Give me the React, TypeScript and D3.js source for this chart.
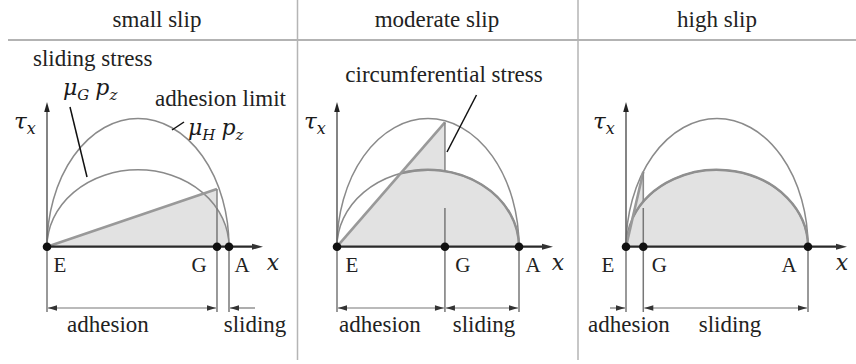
import React from "react";
import * as d3 from "d3";

// Regime titles, one panel each
const panelTitles = ["small slip", "moderate slip", "high slip"];
// Position of the transition point G along the contact length E→A (0..1)
const transitionPos = [0.934, 0.593, 0.095];
// Circumferential stress reached at G, relative to the μH·pz peak
const stressAtG = [0.45, 0.97, 0.584];
// Peaks of the two elliptic stress envelopes
const adhesionLimitPeak = 1.0; // μH pz
const slidingStressPeak = 0.6; // μG pz
const pointLabels = ["E", "G", "A"];
const zoneLabels = ["adhesion", "sliding"];

const W = 856;
const H = 364;
const SERIF = "Liberation Serif, Tinos, Times, DejaVu Serif, serif";
const MATH = "DejaVu Serif, serif";

function semiEllipseAt(peak: number, t: number) {
  const u = 2 * t - 1;
  return peak * Math.sqrt(Math.max(0, 1 - u * u));
}

const serifStyle: React.CSSProperties = { fontFamily: SERIF };
const mathStyle: React.CSSProperties = { fontFamily: MATH, fontStyle: "italic" };

function MathLabel({ x, y, base, sub, base2, sub2, size = 21 }: any) {
  const s = Math.round(size * 0.68);
  return (
    <text x={x} y={y} style={mathStyle} fontSize={size} fill="#1a1a1a">
      {base}
      <tspan fontSize={s} dy={5}>{sub}</tspan>
      {base2 !== undefined && (
        <>
          <tspan dy={-5} dx={6}>{base2}</tspan>
          <tspan fontSize={s} dy={5}>{sub2}</tspan>
        </>
      )}
    </text>
  );
}

function Panel({ i }: { i: number }) {
  const originX = [0, 290, 579][i];
  const x = d3.scaleLinear().domain([0, 1]).range([originX + 47, originX + 229]);
  const y = d3.scaleLinear().domain([0, 1]).range([246.7, 118.5]);
  const g = transitionPos[i];
  const sG = stressAtG[i];
  const innerG = semiEllipseAt(slidingStressPeak, g);
  const rx = (x(1) - x(0)) / 2;
  const ryOuter = y(0) - y(adhesionLimitPeak);
  const ryInner = y(0) - y(slidingStressPeak);

  const outerPath = `M${x(0)},${y(0)} A${rx},${ryOuter} 0 0 1 ${x(1)},${y(0)}`;
  const innerPath = `M${x(0)},${y(0)} A${rx},${ryInner} 0 0 1 ${x(1)},${y(0)}`;

  const area = d3.path();
  area.moveTo(x(0), y(0));
  area.lineTo(x(g), y(sG));
  area.lineTo(x(g), y(innerG));
  const areaD = `${area.toString()} A${rx},${ryInner} 0 0 1 ${x(1)},${y(0)} Z`;

  // where the adhesion line meets the sliding envelope
  const k = sG / g;
  const m2 = 4 * slidingStressPeak * slidingStressPeak;
  const tc = m2 / (k * k + m2);
  const crossD = `M${x(tc)},${y(semiEllipseAt(slidingStressPeak, tc))} A${rx},${ryInner} 0 0 1 ${x(1)},${y(0)}`;

  const lineGen = d3.line<[number, number]>().x((d) => x(d[0])).y((d) => y(d[1]));

  const dimY = 308;
  const extBottom = 312;
  const axisEnd = x(1) + [34, 34, 39][i];
  const yTop = 102;

  const labelY = 272;
  const pointLabelX = [
    [x(0) + 13, x(g) - 18, x(1) + 13],
    [x(0) + 15, x(g) + 18, x(1) + 14],
    [x(0) - 18, x(g) + 16, x(1) - 19],
  ][i];
  const xLabelX = [273, 558, 842][i];
  const zoneX = [
    [108, 255],
    [380, 484],
    [629, 730],
  ][i];

  const arrowHead = (px: number, py: number, dir: number, key: string) => (
    <path
      key={key}
      d={`M${px},${py} L${px - dir * 9},${py - 2.8} L${px - dir * 9},${py + 2.8} Z`}
      fill="#333"
    />
  );

  const dims: React.ReactNode[] = [];
  const dimLine = (a: number, b: number, key: string) => (
    <line key={key} x1={a} x2={b} y1={dimY} y2={dimY} stroke="#777" strokeWidth={1.2} />
  );
  if (i === 0) {
    dims.push(dimLine(x(0) + 1, x(g) - 1, "d1"));
    dims.push(arrowHead(x(0) + 1, dimY, -1, "a1"));
    dims.push(arrowHead(x(g) - 1, dimY, 1, "a2"));
    dims.push(dimLine(x(1) + 1, x(1) + 26, "d2"));
    dims.push(arrowHead(x(1) + 1, dimY, -1, "a3"));
  } else if (i === 1) {
    dims.push(dimLine(x(0) + 1, x(g) - 1, "d1"));
    dims.push(arrowHead(x(0) + 1, dimY, -1, "a1"));
    dims.push(arrowHead(x(g) - 1, dimY, 1, "a2"));
    dims.push(dimLine(x(g) + 1, x(1) - 1, "d2"));
    dims.push(arrowHead(x(g) + 1, dimY, -1, "a3"));
    dims.push(arrowHead(x(1) - 1, dimY, 1, "a4"));
  } else {
    dims.push(dimLine(x(0) - 16, x(0) - 1, "d1"));
    dims.push(arrowHead(x(0) - 1, dimY, 1, "a1"));
    dims.push(dimLine(x(g) + 1, x(1) - 1, "d2"));
    dims.push(arrowHead(x(g) + 1, dimY, -1, "a3"));
    dims.push(arrowHead(x(1) - 1, dimY, 1, "a4"));
  }

  return (
    <g>
      <text x={[157, 437, 717][i]} y={27} textAnchor="middle" style={serifStyle} fontSize={23} fill="#222">
        {panelTitles[i]}
      </text>

      <path d={areaD} fill="#e2e2e2" />

      <path d={outerPath} fill="none" stroke="#8a8a8a" strokeWidth={1.5} />
      <path d={innerPath} fill="none" stroke="#8a8a8a" strokeWidth={1.5} />
      {i > 0 && <path d={crossD} fill="none" stroke="#8f8f8f" strokeWidth={2.4} />}
      <path
        d={lineGen([[0, 0], [g, sG]]) || ""}
        fill="none"
        stroke="#999"
        strokeWidth={2.6}
      />
      {/* stress jump at G */}
      <line x1={x(g)} x2={x(g)} y1={y(sG)} y2={y(innerG)} stroke="#8a8a8a" strokeWidth={1.6} />

      {/* extension lines */}
      <line x1={x(0)} x2={x(0)} y1={y(0)} y2={extBottom} stroke="#777" strokeWidth={1.5} />
      <line x1={x(g)} x2={x(g)} y1={208} y2={extBottom} stroke="#777" strokeWidth={1.5} />
      <line x1={x(1)} x2={x(1)} y1={y(0)} y2={extBottom} stroke="#777" strokeWidth={1.5} />

      {/* axes */}
      <line x1={x(0)} x2={x(0)} y1={y(0)} y2={yTop + 6} stroke="#666" strokeWidth={1.6} />
      <path d={`M${x(0)},${yTop} L${x(0) - 2.8},${yTop + 10} L${x(0) + 2.8},${yTop + 10} Z`} fill="#222" />
      <line x1={x(0)} x2={axisEnd - 6} y1={y(0)} y2={y(0)} stroke="#2a2a2a" strokeWidth={2.2} />
      <path d={`M${axisEnd},${y(0)} L${axisEnd - 11},${y(0) - 3} L${axisEnd - 11},${y(0) + 3} Z`} fill="#333" />

      {[0, g, 1].map((t, j) => (
        <circle key={j} cx={x(t)} cy={y(0)} r={4.3} fill="#111" />
      ))}

      {pointLabels.map((l, j) => (
        <text key={l} x={pointLabelX[j]} y={labelY} textAnchor="middle" style={serifStyle} fontSize={21} fill="#222">
          {l}
        </text>
      ))}
      <text x={xLabelX} y={labelY - 2} textAnchor="middle" style={mathStyle} fontSize={22} fill="#222">
        x
      </text>

      <MathLabel x={x(0) - 33} y={129} base="τ" sub="x" size={23} />

      {dims}
      {zoneLabels.map((l, j) => (
        <text key={l} x={zoneX[j]} y={332} textAnchor="middle" style={serifStyle} fontSize={23} fill="#222">
          {l}
        </text>
      ))}
    </g>
  );
}

export default function App() {
  return (
    <svg
      width={W}
      height={H}
      viewBox={`0 0 ${W} ${H}`}
      style={{ position: "absolute", left: 0, top: 0, background: "#fff", display: "block" }}
    >
      <rect width={W} height={H} fill="#fff" />
      <line x1={8} x2={W} y1={40} y2={40} stroke="#9a9a9a" strokeWidth={1.5} />
      <line x1={297.5} x2={297.5} y1={0} y2={360} stroke="#b5b5b5" strokeWidth={1.5} />
      <line x1={578} x2={578} y1={0} y2={360} stroke="#b5b5b5" strokeWidth={1.5} />

      {[0, 1, 2].map((i) => (
        <Panel key={i} i={i} />
      ))}

      {/* annotations, small slip */}
      <text x={33} y={66} style={serifStyle} fontSize={23} fill="#222">sliding stress</text>
      <MathLabel x={63} y={95} base="μ" sub="G" base2="p" sub2="z" size={22} />
      <line x1={70} y1={107} x2={87} y2={177} stroke="#111" strokeWidth={1.5} />
      <text x={155} y={106} style={serifStyle} fontSize={23} fill="#222">adhesion limit</text>
      <MathLabel x={188} y={135} base="μ" sub="H" base2="p" sub2="z" size={22} />
      <line x1={172} y1={130} x2={184} y2={122} stroke="#111" strokeWidth={1.5} />

      {/* annotation, moderate slip */}
      <text x={444} y={82} textAnchor="middle" style={serifStyle} fontSize={23} fill="#222">
        circumferential stress
      </text>
      <line x1={476.5} y1={95} x2={447} y2={152} stroke="#111" strokeWidth={1.5} />
    </svg>
  );
}
